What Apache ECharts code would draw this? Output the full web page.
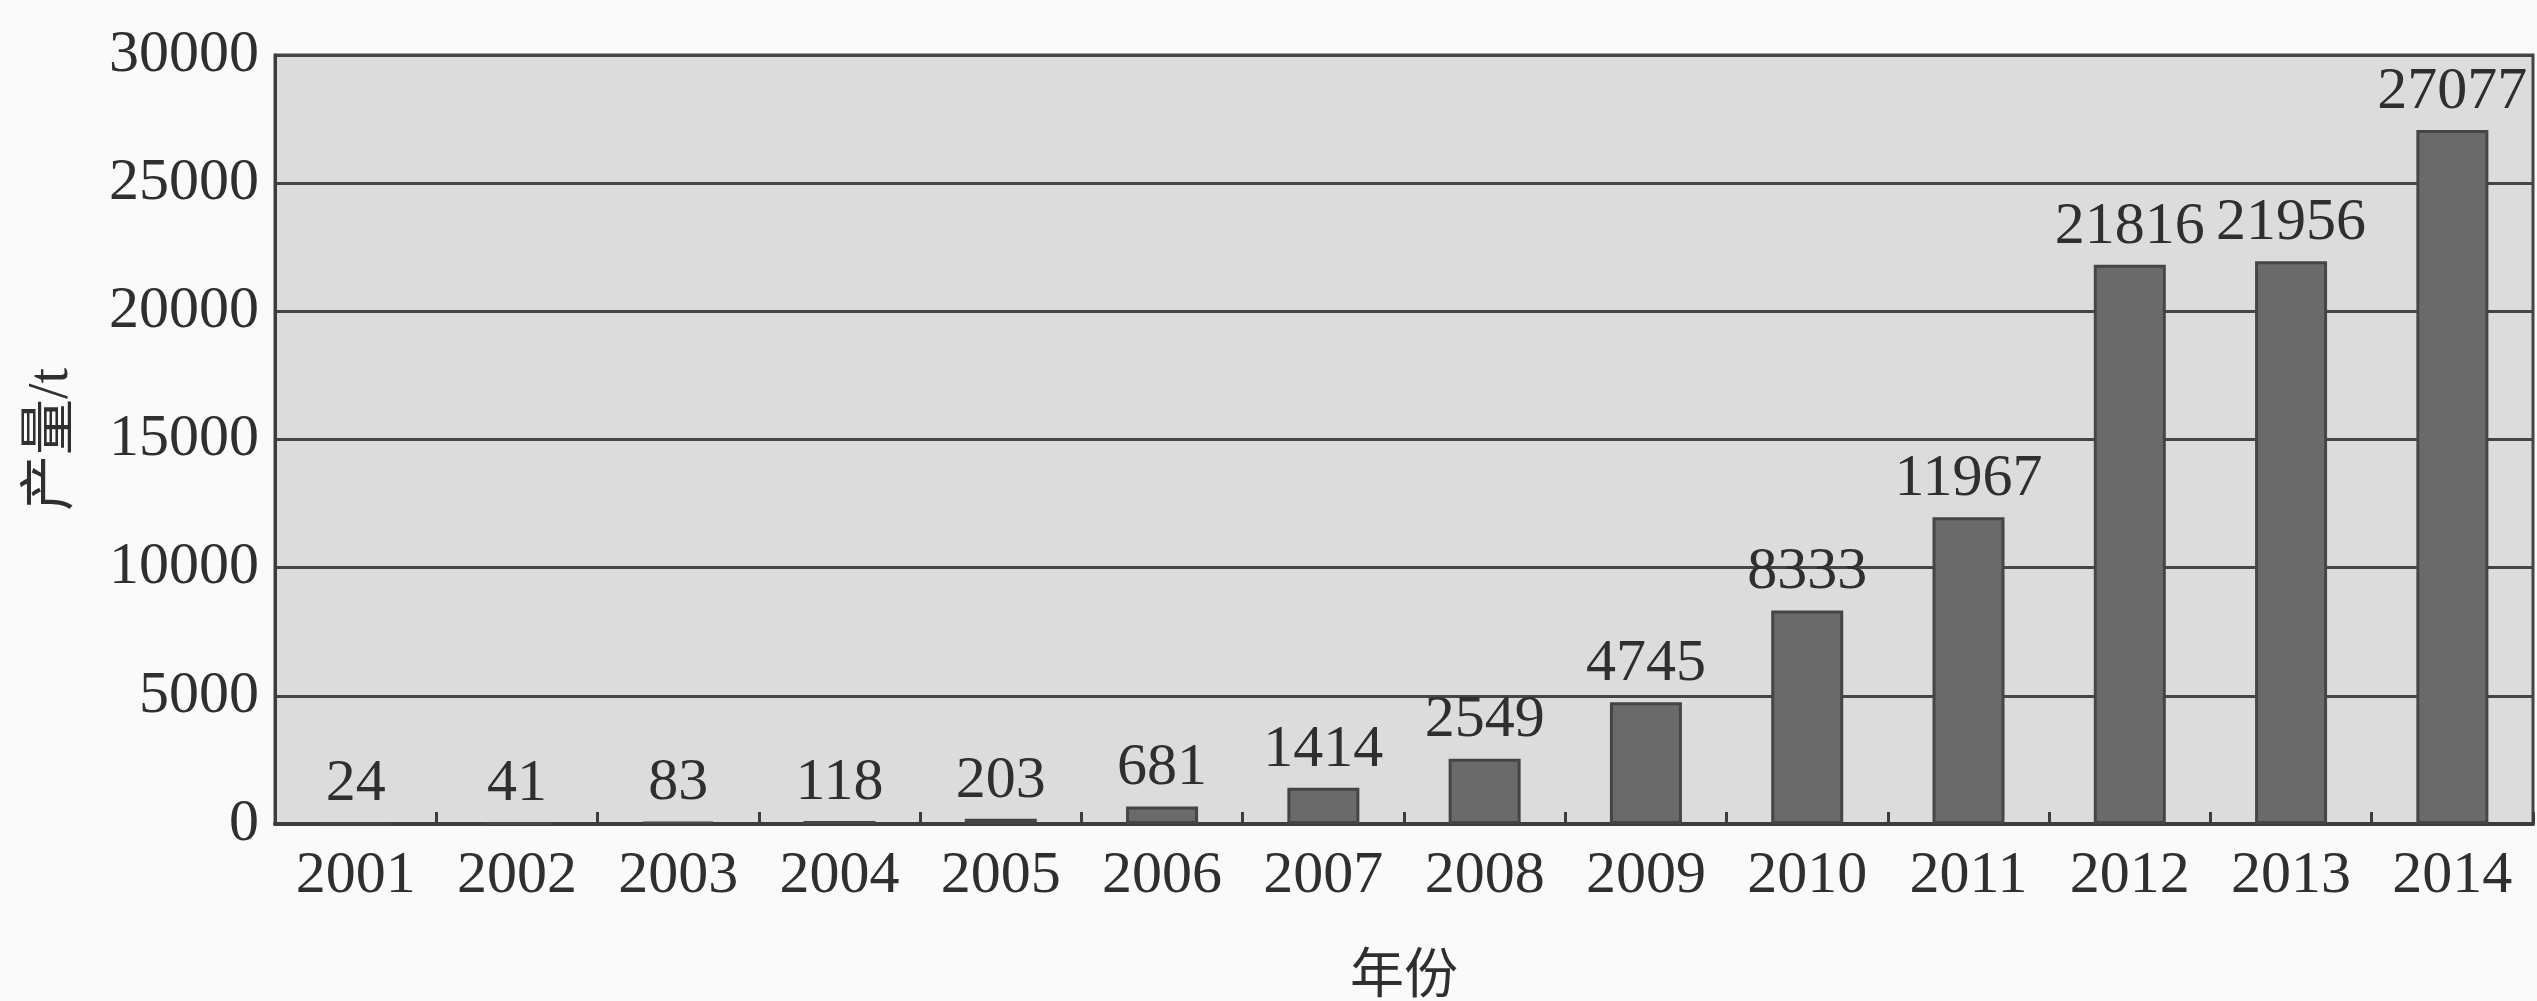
<!DOCTYPE html>
<html>
<head>
<meta charset="utf-8">
<script src="https://cdn.jsdelivr.net/npm/echarts@6/dist/echarts.min.js"></script>
<style>
  html, body { margin: 0; padding: 0; background: #fafafa; }
  #chart { width: 2537px; height: 1001px; }
</style>
</head>
<body>
<div id="chart"></div>
<script>
// 年份 / 产量
const years = ['2001', '2002', '2003', '2004', '2005', '2006', '2007',
               '2008', '2009', '2010', '2011', '2012', '2013', '2014'];
const output = [24, 41, 83, 118, 203, 681, 1414, 2549, 4745, 8333, 11967, 21816, 21956, 27077];
const yTicks = [0, 5000, 10000, 15000, 20000, 25000, 30000];

const font = '"Liberation Serif", "Noto Sans CJK SC", serif';
const textColor = '#2f2f2f';

const chart = echarts.init(document.getElementById('chart'));

const option = {
  backgroundColor: '#fafafa',
  animation: false,
  grid: {
    left: 275,
    right: 4,
    top: 55,
    bottom: 177,
    outerBoundsMode: 'none',
    containLabel: false,
    show: true,
    backgroundColor: '#dcdcdc',
    borderColor: '#444',
    borderWidth: 3
  },
  xAxis: {
    type: 'category',
    data: years,
    name: '年份',
    nameLocation: 'middle',
    nameGap: 128,
    nameTextStyle: { fontFamily: font, fontSize: 54, color: textColor },
    axisLine: { lineStyle: { color: '#3c3c3c', width: 4 } },
    axisTick: { show: true, inside: true, length: 12, lineStyle: { color: '#3c3c3c', width: 3 } },
    axisLabel: { fontFamily: font, fontSize: 60, color: textColor, margin: 22 }
  },
  yAxis: {
    type: 'value',
    min: yTicks[0],
    max: yTicks[yTicks.length - 1],
    interval: yTicks[1] - yTicks[0],
    name: '产量/t',
    nameLocation: 'middle',
    nameGap: 195,
    nameTextStyle: { fontFamily: font, fontSize: 56, color: textColor },
    axisLine: { show: true, lineStyle: { color: '#3c3c3c', width: 3 } },
    axisTick: { show: false },
    axisLabel: {
      fontFamily: font, fontSize: 60, color: textColor, margin: 16,
      formatter: function (v) { return String(v); }
    },
    splitLine: { lineStyle: { color: '#454545', width: 3 } }
  },
  series: [
    {
      type: 'bar',
      data: output,
      barWidth: 72,
      itemStyle: { color: '#6a6a6a', borderColor: '#454545', borderWidth: 3 },
      label: {
        show: true,
        position: 'top',
        distance: 8,
        fontFamily: font,
        fontSize: 60,
        color: textColor
      }
    }
  ]
};

chart.setOption(option);
</script>
</body>
</html>
